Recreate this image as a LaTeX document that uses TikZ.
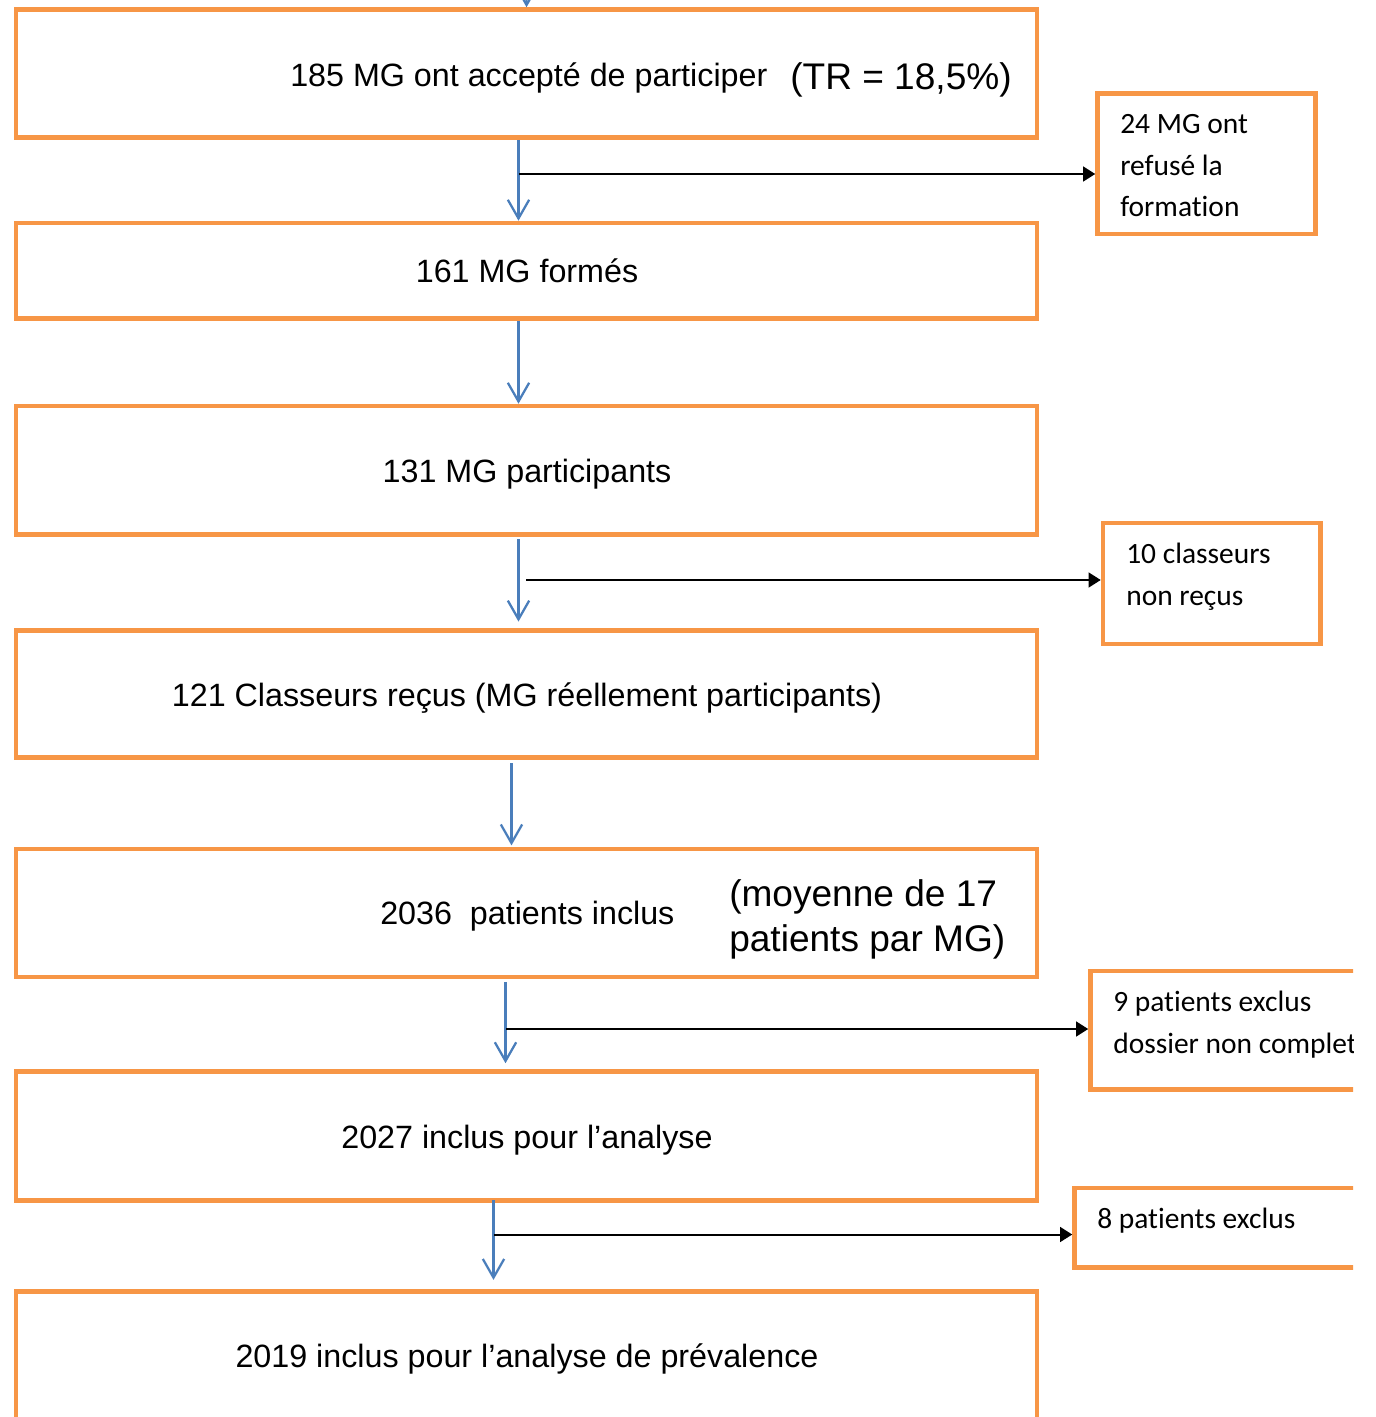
\documentclass[tikz,border=0pt]{standalone}
\usepackage{fontspec}
\setmainfont{Liberation Sans}
\newfontfamily\calibrifont[Ligatures={NoCommon}]{Carlito}
\usetikzlibrary{arrows.meta}
\definecolor{boxorange}{HTML}{F79646}
\definecolor{flowblue}{HTML}{4A7EBB}
\begin{document}
\begin{tikzpicture}[x=0.75pt,y=-0.75pt,
  mainbox/.style={rectangle,draw=boxorange,line width=3.4pt,minimum width=765.75pt,inner sep=0pt},
  sidebox/.style={rectangle,draw=boxorange,line width=3.4pt,inner sep=0pt},
  maintxt/.style={inner sep=0pt,font=\fontsize{24.2}{28}\selectfont},
  bigtxt/.style={inner sep=0pt,anchor=base west,font=\fontsize{27.8}{34}\selectfont},
  sidetxt/.style={inner sep=0pt,anchor=base west,font=\calibrifont\fontsize{22.1}{26}\selectfont},
  downarrow/.style={draw=flowblue,line width=1.7pt,-{Straight Barb[length=14pt,width=16pt]}},
  sidearrow/.style={draw=black,line width=1.5pt,-{Triangle[length=9pt,width=11pt]}}]
\useasboundingbox (0,0) rectangle (1376,1417);
\clip (0,0) rectangle (1353,1417);

% main boxes
\node[mainbox,minimum height=96pt]     (b1) at (526.5,73.5) {};
\node[mainbox,minimum height=71.625pt] (b2) at (526.5,270.75) {};
\node[mainbox,minimum height=96.375pt] (b3) at (526.5,470.25) {};
\node[mainbox,minimum height=95.25pt]  (b4) at (526.5,694) {};
\node[mainbox,minimum height=96pt]     (b5) at (526.5,913) {};
\node[mainbox,minimum height=96.75pt]  (b6) at (526.5,1136) {};
\node[mainbox,minimum height=126.375pt](b7) at (526.5,1375.75) {};

% side boxes
\node[sidebox,minimum width=163.5pt,minimum height=105.5pt]   (s1) at (1206.5,163.65) {};
\node[sidebox,minimum width=163.125pt,minimum height=90.75pt] (s2) at (1211.75,583.5) {};
\node[sidebox,minimum width=247.125pt,minimum height=88.875pt](s3) at (1255.25,1030.25) {};
\node[sidebox,minimum width=259.125pt,minimum height=59.625pt](s4) at (1247.25,1227.75) {};

% main texts
\node[maintxt,anchor=base west] (t1) at (290,86) {185 MG ont accepté de participer};
\node[bigtxt] (t1b) at (790,89) {(TR = 18,5\%)};
\node[maintxt,anchor=base] (t2) at (527,282.5) {161 MG formés};
\node[maintxt,anchor=base] (t3) at (527,482.5) {131 MG participants};
\node[maintxt,anchor=base] (t4) at (527,706.5) {121 Classeurs reçus (MG réellement participants)};
\node[maintxt,anchor=base west] (t5) at (380,924) {2036\ \ patients inclus};
\node[bigtxt] (t5b) at (729,906) {(moyenne de 17};
\node[bigtxt] (t5c) at (729,951.5) {patients par MG)};
\node[maintxt,anchor=base] (t6) at (527,1148.5) {2027 inclus pour l’analyse};
\node[maintxt,anchor=base] (t7) at (527,1367.5) {2019 inclus pour l’analyse de prévalence};

% side texts
\node[sidetxt] (u1a) at (1120,133.5) {24 MG ont};
\node[sidetxt] (u1b) at (1120,175) {refusé la};
\node[sidetxt] (u1c) at (1120,216.5) {formation};
\node[sidetxt] (u2a) at (1126,563.5) {10 classeurs};
\node[sidetxt] (u2b) at (1126,605) {non reçus};
\node[sidetxt] (u3a) at (1113,1011.7) {9 patients exclus};
\node[sidetxt] (u3b) at (1113,1053) {dossier non complet};
\node[sidetxt] (u4a) at (1097,1228.3) {8 patients exclus};

% blue down arrows
\coordinate (top) at (527,-40);
\draw[downarrow] (top) -- (b1.north);
\draw[downarrow] ([xshift=-6pt]b1.south) -- ([xshift=-6pt]b2.north);
\draw[downarrow] ([xshift=-6pt]b2.south) -- ([xshift=-6pt]b3.north);
\draw[downarrow,shorten <=2pt,shorten >=5pt] ([xshift=-6pt]b3.south) -- ([xshift=-6pt]b4.north);
\draw[downarrow,shorten <=2.5pt,shorten >=1pt] ([xshift=-11.25pt]b4.south) -- ([xshift=-11.25pt]b5.north);
\draw[downarrow,shorten <=2pt,shorten >=4.5pt] ([xshift=-15.75pt]b5.south) -- ([xshift=-15.75pt]b6.north);
\draw[downarrow,shorten <=-2pt,shorten >=7pt] ([xshift=-24.75pt]b6.south) -- ([xshift=-24.75pt]b7.north);

% black side arrows
\coordinate (j1) at (519,174);
\coordinate (j2) at (526,580);
\coordinate (j3) at (506,1029);
\coordinate (j4) at (494,1234.5);
\draw[sidearrow] (j1) -- (s1.west |- j1);
\draw[sidearrow] (j2) -- (s2.west |- j2);
\draw[sidearrow] (j3) -- (s3.west |- j3);
\draw[sidearrow] (j4) -- (s4.west |- j4);
\end{tikzpicture}
\end{document}
